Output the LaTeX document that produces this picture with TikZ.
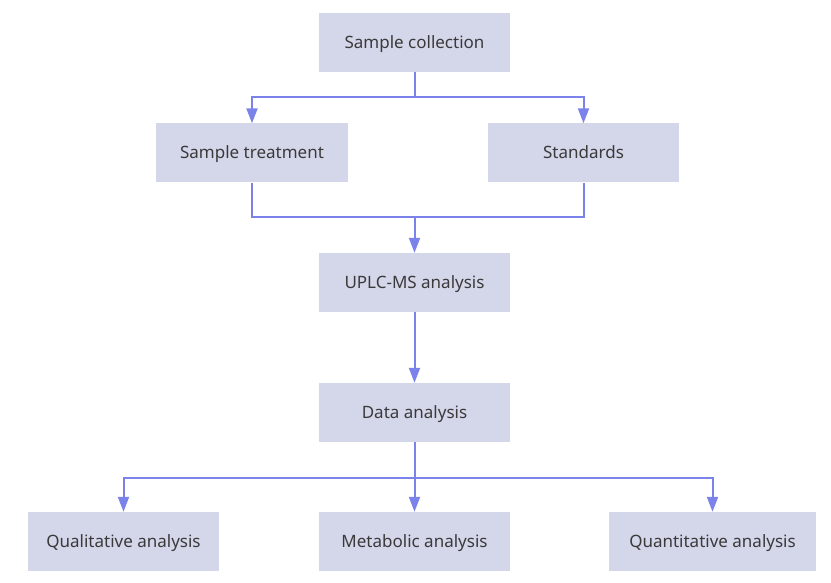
\documentclass[tikz,border=0pt]{standalone}
\usepackage{fontspec}
\setmainfont{Noto Sans}
\usetikzlibrary{calc, arrows.meta}
\definecolor{boxfill}{HTML}{D4D6EA}
\definecolor{linkcol}{HTML}{7B83EB}
\definecolor{txtcol}{HTML}{3A3A3A}

\begin{document}
\begin{tikzpicture}[x=1pt, y=-1pt,
  box/.style={fill=boxfill, minimum width=191pt, minimum height=59pt, inner sep=0pt,
    text=txtcol, font=\fontsize{17}{20}\selectfont, text height=12pt, text depth=0pt},
  link/.style={linkcol, line width=2pt},
  arr/.style={link, -{Triangle[length=15pt, width=11pt]}}]
  \useasboundingbox (0,0) rectangle (831,583);
  % boxes, positions in px of the 831x583 picture (y down)
  \node[box] (col) at (414.5,42.5) {Sample collection};
  \node[box, minimum width=192pt] (treat) at (252,153) {Sample treatment};
  \node[box] (std) at (583.5,153) {Standards};
  \node[box] (uplc) at (414.5,282.5) {UPLC-MS analysis};
  \node[box] (data) at (414.5,412.5) {Data analysis};
  \node[box] (qual) at (123.5,541.5) {Qualitative analysis};
  \node[box] (meta) at (414.5,541.5) {Metabolic analysis};
  \node[box, minimum width=207pt] (quan) at (712.5,541.5) {Quantitative analysis};
  % junctions
  \coordinate (j1) at (414.5,97);
  \coordinate (j2) at (414.5,217);
  \coordinate (j3) at (414.5,478);
  \draw[link] (col) -- (j1);
  \draw[arr] (j1) -| (treat);
  \draw[arr] (j1) -| (std);
  \draw[link] (treat) |- (j2);
  \draw[link] (std) |- (j2);
  \draw[arr] (j2) -- (uplc);
  \draw[arr] (uplc) -- (data);
  \draw[link] (data) -- (j3);
  \draw[arr] (j3) -| (qual);
  \draw[arr] (j3) -- (meta);
  \draw[arr] (j3) -| (quan);
\end{tikzpicture}
\end{document}
